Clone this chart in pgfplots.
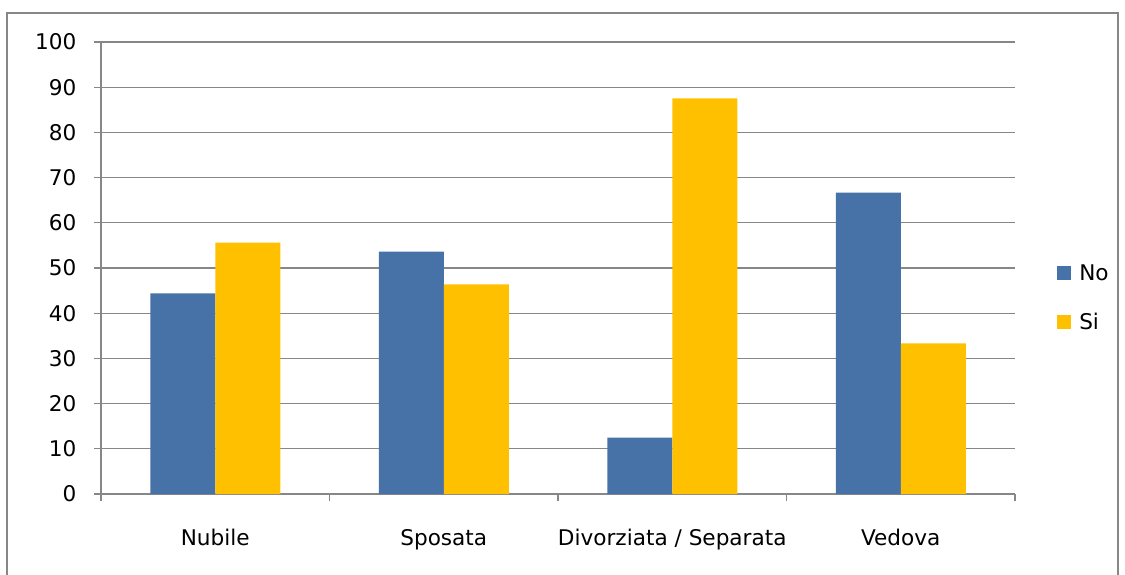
\documentclass[border=0pt]{standalone}
\usepackage{fontspec}
\setmainfont{DejaVu Sans}
\usepackage{pgfplots}
\pgfplotsset{compat=1.18}
\definecolor{cno}{HTML}{4672A7}
\definecolor{csi}{HTML}{FFC000}
\definecolor{axgray}{HTML}{878787}
\pgfplotsset{sqlegend/.style={legend image code/.code={\fill[##1] (0pt,-7pt) rectangle (14pt,7pt); \path (20pt,0pt);}}}
\begin{document}
\begin{tikzpicture}[x=1pt,y=1pt]
\path[use as bounding box] (0,0) rectangle (1125,574);
\draw[axgray, line width=1.3pt] (7,-5) rectangle (1118,561);
\begin{axis}[at={(101pt,80pt)}, anchor=south west, scale only axis,
  width=914pt, height=452pt,
  ymin=0, ymax=100, ytick={0,10,...,100},
  xmin=-0.5, xmax=3.5,
  ybar=0pt, bar width=65pt,
  axis x line*=bottom, axis y line*=left,
  axis line style={axgray, line width=1.3pt},
  tick align=outside,
  xtick={-0.5,0.5,1.5,2.5,3.5},
  xticklabels={},
  major tick length=7pt,
  tick style={axgray, line width=1.3pt},
  extra x ticks={0,1,2,3},
  extra x tick labels={Nubile,Sposata,Divorziata / Separata,Vedova},
  extra x tick style={grid=none, major tick length=0pt, tick style={draw=none}},
  ymajorgrids, grid style={axgray, line width=1.3pt},
  /pgf/number format/assume math mode=true,
  tick label style={font=\fontsize{21.6}{25}\selectfont, text=black},
  xticklabel style={yshift=-32pt},
  yticklabel style={xshift=-14pt},
  legend style={at={(1.046,0.434)}, anchor=west, draw=none, fill=none,
    font=\fontsize{21.6}{25}\selectfont, row sep=27pt, inner sep=0pt},
  legend cell align=left,
]
\addplot[fill=cno, draw=none, sqlegend]
  coordinates {(0,44.4) (1,53.6) (2,12.5) (3,66.7)};
\addplot[fill=csi, draw=none, sqlegend]
  coordinates {(0,55.6) (1,46.4) (2,87.5) (3,33.3)};
\legend{No,Si}
\end{axis}
\end{tikzpicture}
\end{document}
